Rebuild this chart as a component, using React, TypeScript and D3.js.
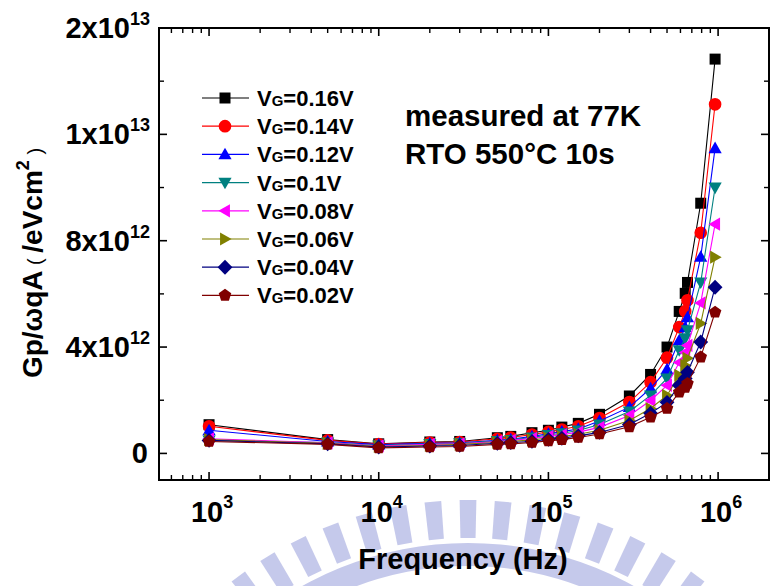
import React from "react";
import * as d3 from "d3";

// Measurement frequencies (Hz)
const frequencies = [
  1e3, 5e3, 1e4, 2e4, 3e4, 5e4, 6e4, 8e4, 1e5, 1.2e5, 1.5e5, 2e5, 3e5, 4e5,
  5e5, 5.9e5, 6.4e5, 6.6e5, 7.9e5, 9.6e5,
];

// Gp/ωqA in units of 1e12 /eVcm^2, one array per gate voltage
const vg016 = [1.08, 0.52, 0.36, 0.43, 0.45, 0.59, 0.64, 0.78, 0.87, 0.99, 1.13, 1.47, 2.16, 2.97, 4.0, 5.34, 6.02, 6.43, 9.41, 14.83];
const vg014 = [1.02, 0.49, 0.35, 0.41, 0.43, 0.55, 0.6, 0.71, 0.81, 0.9, 1.02, 1.33, 1.93, 2.68, 3.6, 4.75, 5.35, 5.76, 8.3, 13.13];
const vg012 = [0.87, 0.45, 0.33, 0.38, 0.4, 0.49, 0.53, 0.64, 0.74, 0.82, 0.92, 1.22, 1.74, 2.45, 3.16, 4.25, 4.74, 5.12, 7.39, 11.48];
const vg010 = [0.49, 0.41, 0.3, 0.36, 0.38, 0.47, 0.51, 0.6, 0.69, 0.76, 0.86, 1.09, 1.58, 2.18, 2.82, 3.88, 4.33, 4.63, 6.43, 10.0];
const vg008 = [0.55, 0.4, 0.28, 0.34, 0.36, 0.45, 0.49, 0.56, 0.64, 0.7, 0.8, 0.98, 1.43, 1.99, 2.56, 3.42, 3.8, 4.06, 5.66, 8.62];
const vg006 = [0.52, 0.38, 0.26, 0.3, 0.34, 0.41, 0.45, 0.51, 0.58, 0.63, 0.72, 0.87, 1.24, 1.69, 2.18, 2.94, 3.31, 3.58, 4.89, 7.38];
const vg004 = [0.49, 0.36, 0.24, 0.28, 0.3, 0.38, 0.41, 0.45, 0.53, 0.57, 0.66, 0.79, 1.09, 1.51, 1.92, 2.56, 2.82, 3.05, 4.19, 6.25];
const vg002 = [0.45, 0.34, 0.21, 0.24, 0.26, 0.34, 0.36, 0.41, 0.47, 0.52, 0.6, 0.73, 1.0, 1.36, 1.69, 2.3, 2.48, 2.63, 3.62, 5.31];

const seriesValues = [vg016, vg014, vg012, vg010, vg008, vg006, vg004, vg002];
const seriesLabels = ["=0.16V", "=0.14V", "=0.12V", "=0.1V", "=0.08V", "=0.06V", "=0.04V", "=0.02V"];
const seriesColors = ["#000000", "#ff0000", "#0000ff", "#008080", "#ff00ff", "#808000", "#000080", "#800000"];
const seriesMarkers = ["square", "circle", "triangleUp", "triangleDown", "triangleLeft", "triangleRight", "diamond", "pentagon"];

// Axis ticks and their printed labels
const yTickValues = [0, 4e12, 8e12, 1.2e13, 1.6e13];
const yTickMantissas = ["0", "4x10", "8x10", "1x10", "2x10"];
const yTickExponents = ["", "12", "12", "13", "13"];
const yMinorTicks = [2e12, 6e12, 1e13, 1.4e13];
const xTickValues = [1e3, 1e4, 1e5, 1e6];
const xTickExponents = ["3", "4", "5", "6"];

const annotationLines = ["measured at 77K", "RTO 550°C 10s"];

const W = 771;
const H = 586;
const FONT = "'Liberation Sans', Arial, Helvetica, sans-serif";
const plot = { left: 159, right: 769, top: 28, bottom: 480 };

function markerPath(kind: string, h: number): string {
  switch (kind) {
    case "square":
      return `M${-h},${-h}H${h}V${h}H${-h}Z`;
    case "circle": {
      const r = h * 1.15;
      return `M${-r},0A${r},${r} 0 1,0 ${r},0A${r},${r} 0 1,0 ${-r},0Z`;
    }
    case "triangleUp": {
      const a = h * 1.2;
      return `M0,${-a}L${a},${a * 0.75}L${-a},${a * 0.75}Z`;
    }
    case "triangleDown": {
      const a = h * 1.2;
      return `M0,${a}L${a},${-a * 0.75}L${-a},${-a * 0.75}Z`;
    }
    case "triangleLeft": {
      const a = h * 1.2;
      return `M${-a},0L${a * 0.75},${-a}L${a * 0.75},${a}Z`;
    }
    case "triangleRight": {
      const a = h * 1.2;
      return `M${a},0L${-a * 0.75},${-a}L${-a * 0.75},${a}Z`;
    }
    case "diamond": {
      const a = h * 1.35;
      return `M0,${-a}L${a},0L0,${a}L${-a},0Z`;
    }
    case "pentagon": {
      const r = h * 1.2;
      const pts = d3.range(5).map((i) => {
        const ang = -Math.PI / 2 + (i * 2 * Math.PI) / 5;
        return [r * Math.cos(ang), r * Math.sin(ang)];
      });
      return "M" + pts.map((p) => `${p[0].toFixed(2)},${p[1].toFixed(2)}`).join("L") + "Z";
    }
    default:
      return "";
  }
}

// Faint emblem printed behind the lower part of the figure
function Emblem() {
  const cx = 468;
  const cy = 884;
  const rOuter = 384;
  const rInner = 346;
  const angles = d3.range(-42, 43, 5.25);
  const half = 1.25;
  const toXY = (r: number, deg: number) => {
    const a = ((deg - 90) * Math.PI) / 180;
    return [cx + r * Math.cos(a), cy + r * Math.sin(a)];
  };
  const ring = d3.arc()({
    innerRadius: 318,
    outerRadius: 341,
    startAngle: (-44 * Math.PI) / 180,
    endAngle: (44 * Math.PI) / 180,
  } as any);
  return (
    <g fill="#bcc0e8" opacity={0.85}>
      {angles.map((deg, i) => {
        const p1 = toXY(rOuter, deg - half);
        const p2 = toXY(rOuter, deg + half);
        const p3 = toXY(rInner, deg + half);
        const p4 = toXY(rInner, deg - half);
        return <path key={i} d={`M${p1}L${p2}L${p3}L${p4}Z`} />;
      })}
      <path d={ring || ""} transform={`translate(${cx},${cy})`} />
    </g>
  );
}

export default function App() {
  const x = d3
    .scaleLog()
    .domain([Math.pow(10, 2.705), Math.pow(10, 6.3)])
    .range([plot.left, plot.right]);
  const y = d3.scaleLinear().domain([-1e12, 1.6e13]).range([plot.bottom, plot.top]);

  const line = d3
    .line<[number, number]>()
    .x((d) => x(d[0]))
    .y((d) => y(d[1]));

  const xMinor: number[] = [];
  for (let e = 2; e <= 6; e++) {
    for (let m = 2; m <= 9; m++) {
      const v = m * Math.pow(10, e);
      if (x(v) > plot.left + 1 && x(v) < plot.right - 1) xMinor.push(v);
    }
  }

  const majorLen = 8;
  const minorLen = 5;
  const markerHalf = 5.5;

  return (
    <svg
      width={W}
      height={H}
      style={{ position: "absolute", left: 0, top: 0, background: "#fff" }}
      fontFamily={FONT}
    >
      <rect width={W} height={H} fill="#fff" />
      <Emblem />

      {/* data series: line first, then its symbols */}
      {seriesValues.map((vals, si) => {
        const pts: [number, number][] = frequencies.map((f, i) => [f, vals[i] * 1e12]);
        return (
          <g key={si}>
            <path d={line(pts) || ""} fill="none" stroke={seriesColors[si]} strokeWidth={1.1} />
            {pts.map((p, i) => (
              <path
                key={i}
                d={markerPath(seriesMarkers[si], markerHalf)}
                transform={`translate(${x(p[0])},${y(p[1])})`}
                fill={seriesColors[si]}
              />
            ))}
          </g>
        );
      })}

      {/* frame */}
      <rect
        x={plot.left}
        y={plot.top}
        width={plot.right - plot.left}
        height={plot.bottom - plot.top}
        fill="none"
        stroke="#000"
        strokeWidth={2}
      />

      {/* x ticks, bottom and top, pointing inward */}
      {xTickValues.map((v) => (
        <g key={`xt${v}`} stroke="#000" strokeWidth={1.6}>
          <line x1={x(v)} x2={x(v)} y1={plot.bottom} y2={plot.bottom - majorLen} />
          <line x1={x(v)} x2={x(v)} y1={plot.top} y2={plot.top + majorLen} />
        </g>
      ))}
      {xMinor.map((v) => (
        <g key={`xm${v}`} stroke="#000" strokeWidth={1.4}>
          <line x1={x(v)} x2={x(v)} y1={plot.bottom} y2={plot.bottom - minorLen} />
          <line x1={x(v)} x2={x(v)} y1={plot.top} y2={plot.top + minorLen} />
        </g>
      ))}

      {/* y ticks, left and right, pointing inward */}
      {yTickValues.map((v) => (
        <g key={`yt${v}`} stroke="#000" strokeWidth={1.6}>
          <line x1={plot.left} x2={plot.left + majorLen} y1={y(v)} y2={y(v)} />
          <line x1={plot.right} x2={plot.right - majorLen} y1={y(v)} y2={y(v)} />
        </g>
      ))}
      {yMinorTicks.map((v) => (
        <g key={`ym${v}`} stroke="#000" strokeWidth={1.4}>
          <line x1={plot.left} x2={plot.left + minorLen} y1={y(v)} y2={y(v)} />
          <line x1={plot.right} x2={plot.right - minorLen} y1={y(v)} y2={y(v)} />
        </g>
      ))}

      {/* y tick labels */}
      {yTickValues.map((v, i) => (
        <text
          key={`yl${v}`}
          x={yTickExponents[i] ? 150 : 148}
          y={y(v) + 10}
          textAnchor="end"
          fontSize={29}
          fontWeight="bold"
          fill="#000"
        >
          <tspan>{yTickMantissas[i]}</tspan>
          {yTickExponents[i] ? (
            <tspan dy={-13} fontSize={18}>
              {yTickExponents[i]}
            </tspan>
          ) : null}
        </text>
      ))}

      {/* x tick labels */}
      {xTickValues.map((v, i) => (
        <text
          key={`xl${v}`}
          x={x(v) + 3}
          y={522}
          textAnchor="middle"
          fontSize={29}
          fontWeight="bold"
          fill="#000"
        >
          <tspan>10</tspan>
          <tspan dy={-14} fontSize={18}>
            {xTickExponents[i]}
          </tspan>
        </text>
      ))}

      {/* axis titles */}
      <text x={463} y={569} textAnchor="middle" fontSize={29} fontWeight="bold" fill="#000">
        Frequency (Hz)
      </text>
      <text
        transform="translate(42,263) rotate(-90)"
        textAnchor="middle"
        fontSize={28}
        fontWeight="bold"
        fill="#000"
      >
        <tspan>Gp/ωqA</tspan>
        <tspan fontWeight="normal" fontSize={20}>
          {" ( "}
        </tspan>
        <tspan>/eVcm</tspan>
        <tspan dy={-13} fontSize={18}>
          2
        </tspan>
        <tspan dy={13} fontWeight="normal" fontSize={20}>
          {" )"}
        </tspan>
      </text>

      {/* annotation */}
      {annotationLines.map((t, i) => (
        <text key={t} x={405} y={126 + i * 38} fontSize={29.5} fontWeight="bold" fill="#000">
          {t}
        </text>
      ))}

      {/* legend */}
      {seriesLabels.map((lab, i) => {
        const ly = 98 + i * 28.2;
        return (
          <g key={lab}>
            <line x1={202} x2={249} y1={ly} y2={ly} stroke={seriesColors[i]} strokeWidth={1.2} />
            <path d={markerPath(seriesMarkers[i], markerHalf)} transform={`translate(225,${ly})`} fill={seriesColors[i]} />
            <text x={257} y={ly + 8} fontSize={22} fontWeight="bold" fill="#000">
              <tspan>V</tspan>
              <tspan fontSize={15}>G</tspan>
              <tspan>{lab}</tspan>
            </text>
          </g>
        );
      })}
    </svg>
  );
}
